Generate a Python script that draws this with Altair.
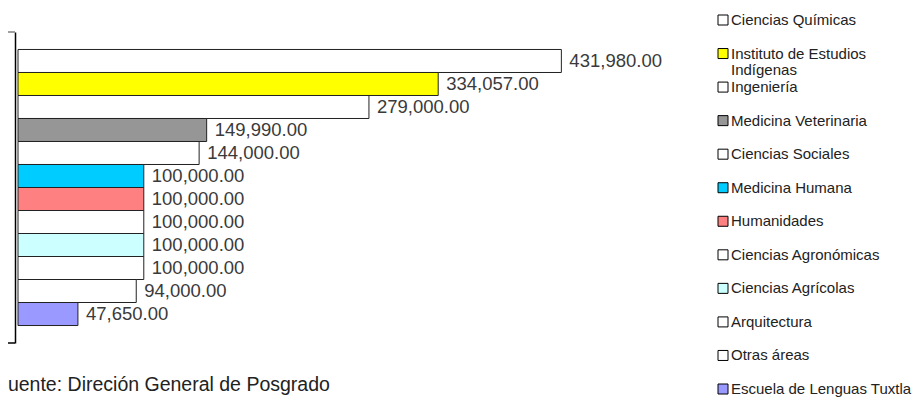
import altair as alt
import pandas as pd

categorias = ["Ciencias Químicas", "Instituto de Estudios Indígenas", "Ingeniería",
              "Medicina Veterinaria", "Ciencias Sociales", "Medicina Humana",
              "Humanidades", "Ciencias Agronómicas", "Ciencias Agrícolas",
              "Arquitectura", "Otras áreas", "Escuela de Lenguas Tuxtla"]
etiquetas = ["Ciencias Químicas", "Instituto de Estudios\nIndígenas", "Ingeniería",
             "Medicina Veterinaria", "Ciencias Sociales", "Medicina Humana",
             "Humanidades", "Ciencias Agronómicas", "Ciencias Agrícolas",
             "Arquitectura", "Otras áreas", "Escuela de Lenguas Tuxtla"]
montos = [431980, 334057, 279000, 149990, 144000, 100000, 100000, 100000,
          100000, 100000, 94000, 47650]
colores = ["#FFFFFF", "#FFFF00", "#FFFFFF", "#969696", "#FFFFFF", "#00CCFF",
           "#FF8080", "#FFFFFF", "#CCFFFF", "#FFFFFF", "#FFFFFF", "#9999FF"]
fuente = "Fuente: Direción General de Posgrado"

df = pd.DataFrame({"categoria": categorias, "etiqueta": etiquetas, "monto": montos})

W, H = 600, 311
color = alt.Color("categoria:N", scale=alt.Scale(domain=categorias, range=colores), legend=None)
ybar = alt.Y("categoria:N", sort=categorias,
             scale=alt.Scale(paddingInner=0, paddingOuter=0.76),
             axis=alt.Axis(labels=False, ticks=False, title=None, domain=True,
                           domainColor="#000000", domainWidth=1.5, offset=3, grid=False))
xbar = alt.X("monto:Q", scale=alt.Scale(domain=[0, 477000], nice=False), axis=None)

base = alt.Chart(df)
bars = base.mark_bar(stroke="#222222", strokeWidth=1).encode(x=xbar, y=ybar, color=color)
labels = base.mark_text(align="left", baseline="middle", dx=8, fontSize=18.5,
                        font="Liberation Sans", color="#3a3a3a").encode(
    x=xbar, y=ybar, text=alt.Text("monto:Q", format=",.2f"))
plot = alt.layer(bars, labels)

yleg = alt.Y("categoria:N", sort=categorias,
             scale=alt.Scale(type="point", range=[-12, 357], padding=0), axis=None)
sq = base.mark_square(size=100, stroke="#000000", strokeWidth=1, opacity=1).encode(
    x=alt.value(705), y=yleg,
    fill=alt.Fill("categoria:N", scale=alt.Scale(domain=categorias, range=colores), legend=None))
txt = base.mark_text(align="left", baseline="alphabetic", dy=5, fontSize=15,
                     font="Liberation Sans", color="#222222", lineBreak="\n",
                     lineHeight=16).encode(x=alt.value(713), y=yleg, text="etiqueta:N")
leg = alt.layer(sq, txt)

tick_df = pd.DataFrame({"k": [0]})
tick_top = alt.Chart(tick_df).mark_rule(color="#808080", strokeWidth=1.5).encode(
    x=alt.value(-10), x2=alt.value(-3), y=alt.value(0))
tick_bot = alt.Chart(tick_df).mark_rule(color="#000000", strokeWidth=1.5).encode(
    x=alt.value(-10), x2=alt.value(-3), y=alt.value(H))

foot = alt.Chart(pd.DataFrame({"t": [fuente]})).mark_text(
    align="left", baseline="middle", fontSize=19.5, font="Liberation Sans", color="#222222").encode(
    x=alt.value(-22), y=alt.value(353), text="t:N")

chart = alt.layer(plot, leg, tick_top, tick_bot, foot).resolve_scale(
    y="independent").properties(
    width=W, height=H,
    autosize=alt.AutoSizeParams(type="none"),
    padding={"left": 10, "top": 24, "right": 297, "bottom": 54},
).configure_view(stroke=None)

chart.save("out.html", embed_options={"renderer": "svg", "actions": False})
